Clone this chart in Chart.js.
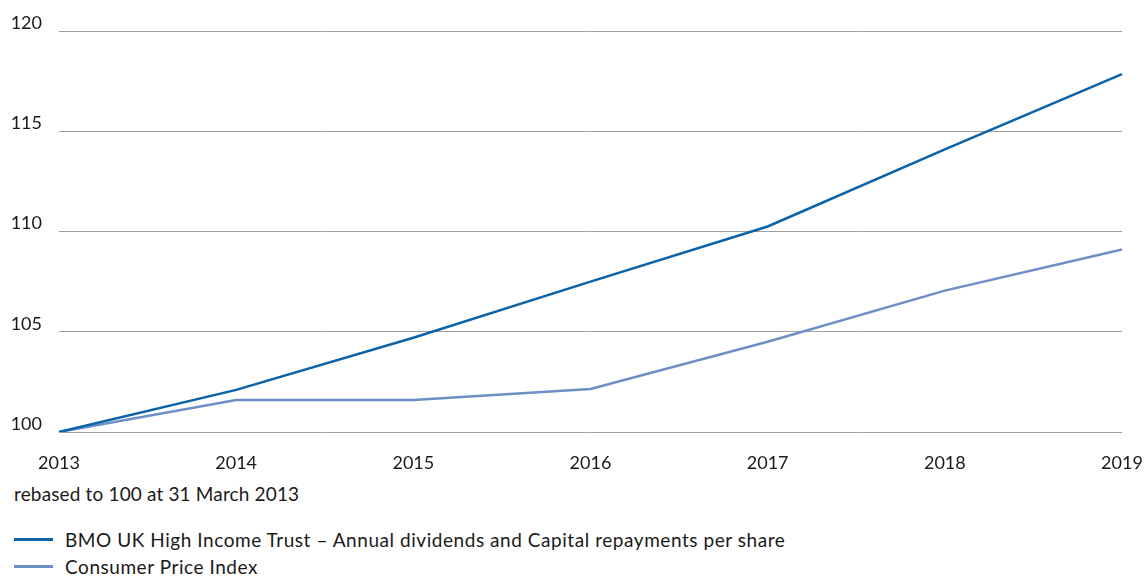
<!DOCTYPE html>
<html>
<head>
<meta charset="utf-8">
<script src="https://cdn.jsdelivr.net/npm/chart.js@4/dist/chart.umd.min.js"></script>
<style>
  body { margin: 0; background: #fff; font-family: Lato, "Noto Sans", sans-serif; color: #1a1a1a; }
  #wrap { position: relative; width: 1145px; height: 480px; }
  #note { position: absolute; left: 14px; top: 482px; font-size: 19px; letter-spacing: 0.15px; }
  #legend { position: absolute; left: 14px; top: 526px; font-size: 19px; letter-spacing: 0.55px; }
  .item { display: flex; align-items: center; height: 27px; }
  .swatch { width: 39px; height: 3px; margin-right: 12px; }
</style>
</head>
<body>
<div id="wrap"><canvas id="lineChart"></canvas></div>
<div id="note">rebased to 100 at 31 March 2013</div>
<div id="legend"></div>
<script>
const years = ["2013", "2014", "2015", "2016", "2017", "2018", "2019"];
const trustValues = [100, 102.1, 104.7, 107.5, 110.25, 114.1, 117.85];
const cpiValues = [100, 101.6, 101.6, 102.15, 104.5, 107.05, 109.1];
const seriesNames = [
  "BMO UK High Income Trust \u2013 Annual dividends and Capital repayments per share",
  "Consumer Price Index"
];
const seriesColors = ["#0a62a8", "#6c8fc6"];

const data = {
  labels: years,
  datasets: [
    {
      label: seriesNames[0],
      data: trustValues,
      borderColor: seriesColors[0],
      borderWidth: 2.5,
      pointRadius: 0,
      tension: 0,
    },
    {
      label: seriesNames[1],
      data: cpiValues,
      borderColor: seriesColors[1],
      borderWidth: 2.5,
      pointRadius: 0,
      tension: 0,
    },
  ],
};

const config = {
  type: "line",
  data: data,
  options: {
    responsive: true,
    maintainAspectRatio: false,
    animation: false,
    layout: { padding: { left: 12, right: 23, top: 31, bottom: 0 } },
    plugins: { legend: { display: false }, tooltip: { enabled: false } },
    scales: {
      x: {
        grid: { display: false },
        border: { display: false },
        offset: false,
        ticks: {
          color: "#1a1a1a",
          font: { family: "Lato", size: 18 },
          padding: 12,
          maxRotation: 0,
        },
        afterFit: (s) => {
          s.height = 48;
          s.paddingLeft = 0;
          s.paddingRight = 0;
        },
      },
      y: {
        min: 100,
        max: 120,
        border: { display: false },
        grid: { color: "#a0a0a0", lineWidth: 1, drawTicks: false },
        ticks: {
          stepSize: 5,
          color: "#1a1a1a",
          font: { family: "Lato", size: 18 },
          padding: 17,
          labelOffset: -8,
        },
        afterFit: (s) => {
          s.width = 47;
          s.paddingTop = 0;
          s.paddingBottom = 0;
        },
      },
    },
  },
};

const chart = new Chart(document.getElementById("lineChart"), config);

const legend = document.getElementById("legend");
for (let i = 0; i < seriesNames.length; i++) {
  const row = document.createElement("div");
  row.className = "item";
  row.innerHTML = '<span class="swatch" style="background:' + seriesColors[i] + '"></span>' + seriesNames[i];
  legend.appendChild(row);
}
</script>
</body>
</html>
